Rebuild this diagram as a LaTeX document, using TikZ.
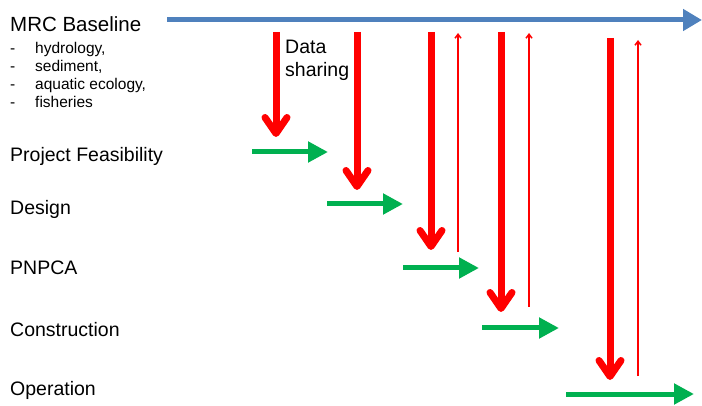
\documentclass[tikz,border=0pt]{standalone}
\usepackage{fontspec}
\setmainfont{Liberation Sans}
\usetikzlibrary{arrows.meta}
\definecolor{timeblue}{RGB}{79,129,189}
\definecolor{stagegreen}{RGB}{0,176,80}
\definecolor{sharered}{RGB}{255,0,0}
\begin{document}
\begin{tikzpicture}[x=1pt,y=-1pt,
  title/.style={anchor=base west,inner sep=0pt,font=\fontsize{20.5}{24}\selectfont},
  stage/.style={anchor=base west,inner sep=0pt,font=\fontsize{19.5}{23}\selectfont},
  item/.style={anchor=base west,inner sep=0pt,font=\fontsize{15.5}{18}\selectfont},
  timeline/.style={draw=timeblue,line width=5pt,-{Triangle[length=19pt,width=21pt]}},
  stagearrow/.style={draw=stagegreen,line width=5pt,-{Triangle[length=20pt,width=20pt]}},
  datadown/.style={draw=sharered,line width=7pt,-{Straight Barb[round,length=16pt,width=22pt]}},
  dataup/.style={draw=sharered,line width=1.5pt,-{Straight Barb[length=4pt,width=6pt]}}]
\useasboundingbox (0,0) rectangle (702,406);

% labels
\node[title] (mrc) at (10,32) {MRC Baseline};
\node[item] (dasha) at (10,54) {-};
\node[item] (itema) at (35,54) {hydrology,};
\node[item] (dashb) at (10,72) {-};
\node[item] (itemb) at (35,72) {sediment,};
\node[item] (dashc) at (10,90) {-};
\node[item] (itemc) at (35,90) {aquatic ecology,};
\node[item] (dashd) at (10,108) {-};
\node[item] (itemd) at (35,108) {fisheries};
\node[stage] (feas) at (10,162) {Project Feasibility};
\node[stage] (design) at (10,215) {Design};
\node[stage] (pnpca) at (10,275) {PNPCA};
\node[stage] (constr) at (10,336) {Construction};
\node[stage] (oper) at (10,395) {Operation};
\node[stage,align=left,anchor=north west] (share) at (285,40) {Data\\sharing};

% timeline
\coordinate (t0) at (167,20);
\coordinate (t1) at (702,20);
\draw[timeline] (t0) -- (t1);

% stage arrows
\coordinate (g1a) at (252,152); \coordinate (g1b) at (328,152);
\coordinate (g2a) at (327,204); \coordinate (g2b) at (403,204);
\coordinate (g3a) at (403,268); \coordinate (g3b) at (479,268);
\coordinate (g4a) at (482,328); \coordinate (g4b) at (559,328);
\coordinate (g5a) at (566,394); \coordinate (g5b) at (694,394);
\foreach \i in {1,...,5} \draw[stagearrow] (g\i a) -- (g\i b);

% data flowing down from the baseline
\coordinate (r1a) at (276,32); \coordinate (r1b) at (276,137);
\coordinate (r2a) at (357,32); \coordinate (r2b) at (357,190);
\coordinate (r3a) at (431,32); \coordinate (r3b) at (431,250);
\coordinate (r4a) at (501,32); \coordinate (r4b) at (501,312);
\coordinate (r5a) at (610,38); \coordinate (r5b) at (610,380);
\foreach \i in {1,...,5} \draw[datadown] (r\i a) -- (r\i b);

% data flowing back to the baseline
\coordinate (u1a) at (458,252); \coordinate (u1b) at (458,33);
\coordinate (u2a) at (529,307); \coordinate (u2b) at (529,33);
\coordinate (u3a) at (638,376); \coordinate (u3b) at (638,40);
\foreach \i in {1,...,3} \draw[dataup] (u\i a) -- (u\i b);
\end{tikzpicture}
\end{document}
